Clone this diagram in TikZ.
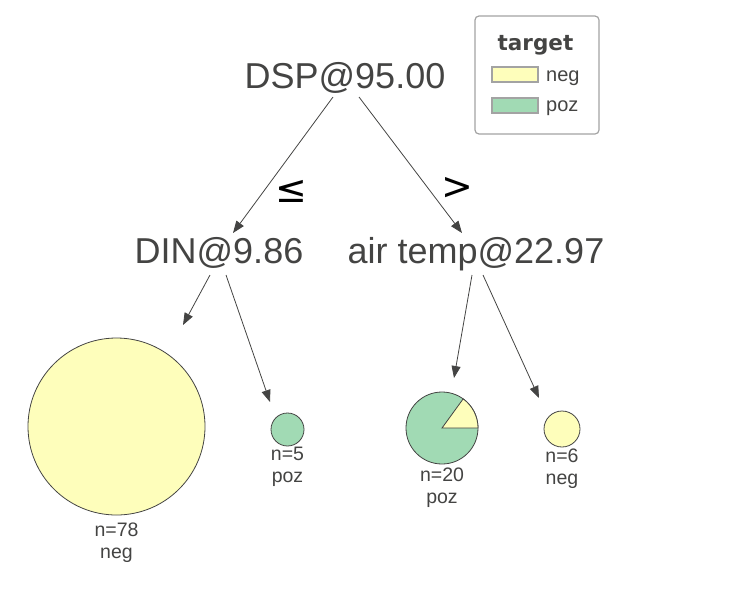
\documentclass[tikz,border=0pt]{standalone}
\usepackage{fontspec}
\setmainfont{Liberation Sans}
\newfontfamily\symfont{DejaVu Sans}
\usetikzlibrary{arrows.meta,calc}
\definecolor{ink}{HTML}{444443}
\definecolor{negfill}{HTML}{FEFEBB}
\definecolor{pozfill}{HTML}{A1DAB4}
\definecolor{frame}{HTML}{A3A3A3}

\begin{document}
\begin{tikzpicture}[x=1pt,y=-1pt]
  % Styles
  \tikzset{
    split/.style={inner sep=0pt, anchor=base, text=ink, font=\fontsize{36}{40}\selectfont},
    cmp/.style={inner sep=0pt, text=black, font=\symfont\fontsize{38}{42}\selectfont},
    leaf/.style={circle, draw=ink, line width=0.8pt, inner sep=0pt},
    count/.style={inner sep=0pt, anchor=base, text=ink, font=\fontsize{19.5}{22}\selectfont},
    legendbox/.style={draw=frame, line width=1.2pt, rounded corners=4pt, minimum width=124pt, minimum height=118pt},
    swatch/.style={draw=frame, line width=1.2pt, minimum width=46pt, minimum height=15pt, inner sep=0pt},
    line/.style={-{Triangle[length=12pt,width=9pt]}, line width=0.8pt, draw=ink},
  }
  \useasboundingbox (0,0) rectangle (754,598);

  % Row 1: root split
  \node[split] (dsp) at (345,88) {DSP@95.00};

  % Row 2: child splits
  \node[split] (din) at (219,263) {DIN@9.86};
  \node[split] (air) at (476,263) {air temp@22.97};
  \node[cmp] (le) at (291,191) {≤};
  \node[cmp] (gt) at (457,188) {>};

  % Row 3: leaves
  \node[leaf, fill=negfill, minimum size=177pt] (leafA) at (116.5,426.5) {};
  \node[leaf, fill=pozfill, minimum size=33pt]  (leafB) at (287.5,429.5) {};
  \node[leaf, fill=pozfill, minimum size=72pt]  (leafC) at (442,428) {};
  \node[leaf, fill=negfill, minimum size=36pt]  (leafD) at (562,429) {};
  \filldraw[fill=negfill, draw=ink, line width=0.8pt]
    (leafC.center) -- ++(36pt,0pt) arc[start angle=0, end angle=54, radius=36pt] -- cycle;

  \node[count] (nA) at (116.5,536) {n=78};
  \node[count] (cA) at (116.5,558) {neg};
  \node[count] (nB) at (287.5,460) {n=5};
  \node[count] (cB) at (287.5,482) {poz};
  \node[count] (nC) at (442,481) {n=20};
  \node[count] (cC) at (442,503) {poz};
  \node[count] (nD) at (562,462) {n=6};
  \node[count] (cD) at (562,484) {neg};

  % Edges
  \draw[line] ($(dsp.base)+(-12,9)$) -- ($(din.base)+(14,-30)$);
  \draw[line] ($(dsp.base)+(14,9)$)  -- ($(air.base)+(-14,-30)$);
  \draw[line] ($(din.base)+(-9,12)$) -- ($(leafA)+(66.5,-101.5)$);
  \draw[line] ($(din.base)+(7,12)$)  -- ($(leafB)+(-17.5,-27.5)$);
  \draw[line] ($(air.base)+(-4,12)$) -- ($(leafC)+(12,-50)$);
  \draw[line] ($(air.base)+(7,12)$)  -- ($(leafD)+(-23,-31)$);

  % Legend
  \node[legendbox] (legend) at (537,75) {};
  \node[inner sep=0pt, anchor=base, text=ink, font=\symfont\bfseries\fontsize{21.5}{24}\selectfont] (title) at (535.5,50) {target};
  \node[swatch, fill=negfill] (negkey) at (515,74.5) {};
  \node[swatch, fill=pozfill] (pozkey) at (515,105.5) {};
  \node[inner sep=0pt, anchor=base west, text=ink, font=\fontsize{20}{24}\selectfont] (neglbl) at (546,81) {neg};
  \node[inner sep=0pt, anchor=base west, text=ink, font=\fontsize{20}{24}\selectfont] (pozlbl) at (546,111) {poz};
\end{tikzpicture}
\end{document}
